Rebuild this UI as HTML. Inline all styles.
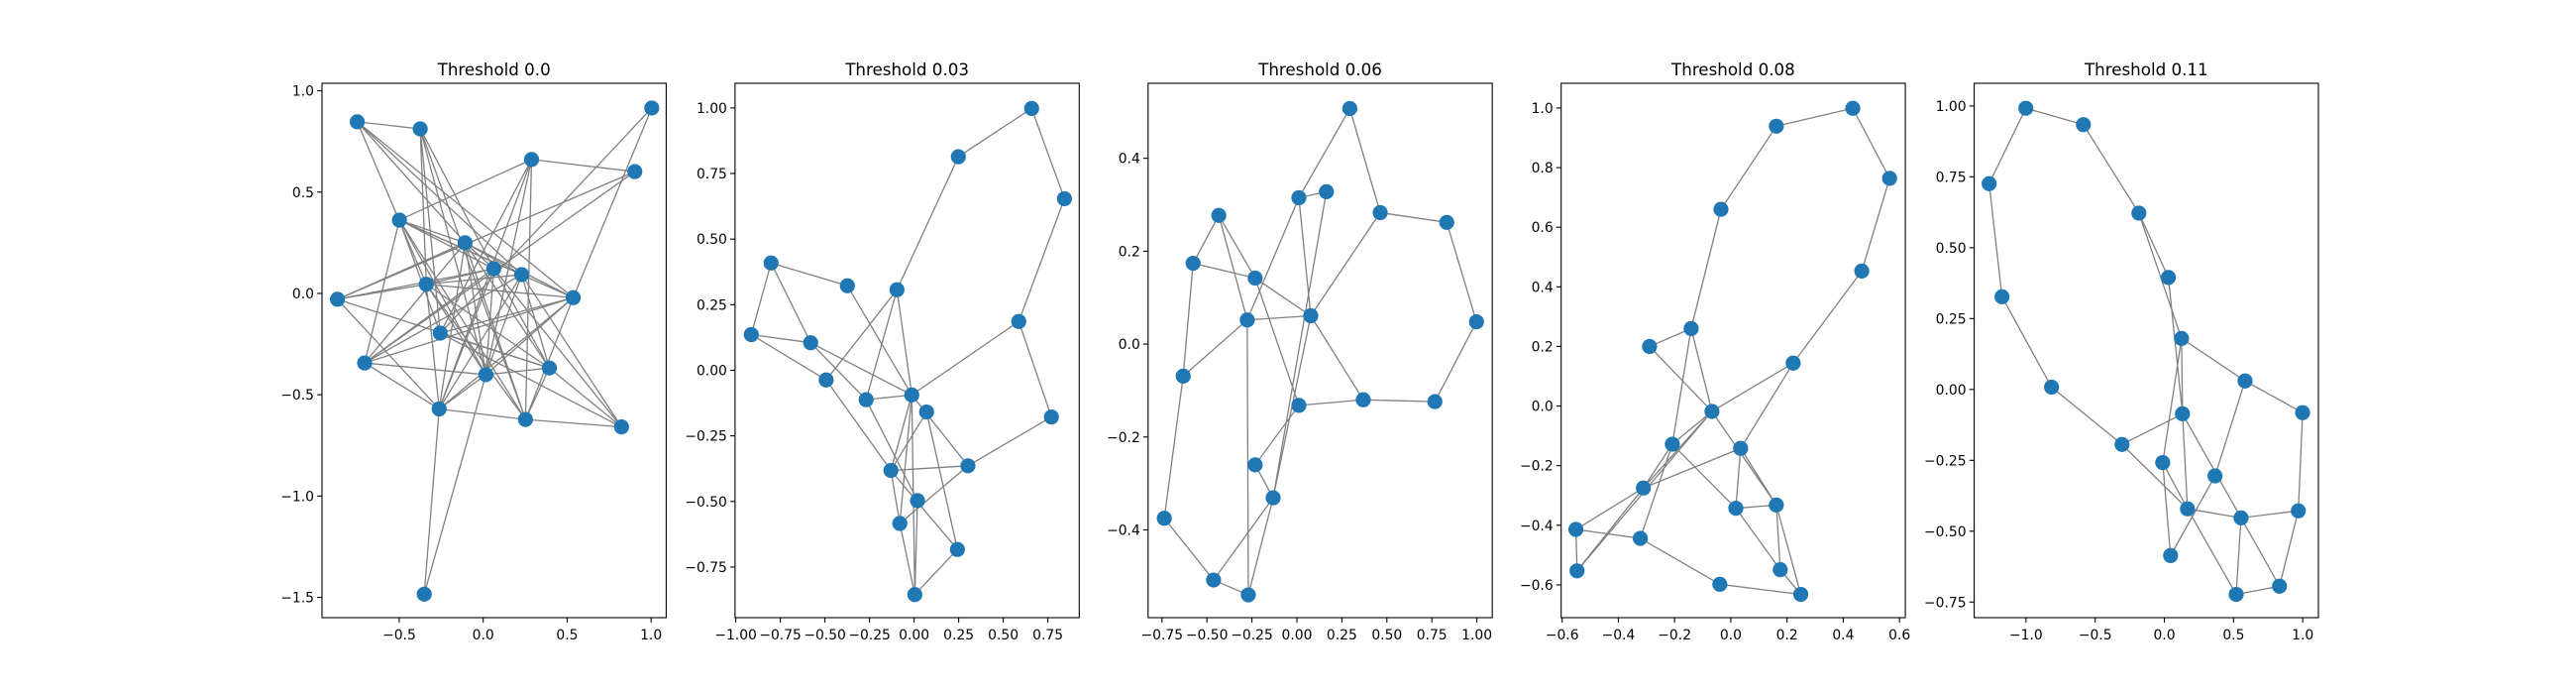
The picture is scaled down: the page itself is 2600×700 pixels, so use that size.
<!DOCTYPE html>
<html><head><meta charset="utf-8">
<style>
html,body{margin:0;padding:0;background:#fff;}
svg{display:block;font-family:"DejaVu Sans","Liberation Sans",sans-serif;}
</style></head>
<body>
<svg id="fig" width="2600" height="700" viewBox="0 0 2600 700" xmlns="http://www.w3.org/2000/svg"></svg>
<script>
// Panel titles
const titles = ["Threshold 0.0","Threshold 0.03","Threshold 0.06","Threshold 0.08","Threshold 0.11"];
// Node coordinates per panel
const p1X = [-0.75,-0.375,0.288,1.004,0.903,-0.499,-0.108,0.063,0.229,-0.339,-0.868,0.536,-0.256,-0.706,0.016,0.394,-0.262,0.252,0.824,-0.351];
const p1Y = [0.847,0.812,0.661,0.915,0.601,0.362,0.25,0.122,0.093,0.045,-0.029,-0.021,-0.196,-0.343,-0.401,-0.368,-0.57,-0.622,-0.659,-1.484];
const p2X = [0.659,0.248,0.843,-0.802,-0.374,-0.096,0.587,-0.913,-0.580,-0.493,-0.269,-0.013,0.070,0.770,-0.130,0.302,0.019,-0.080,0.243,0.004];
const p2Y = [0.998,0.814,0.654,0.409,0.322,0.307,0.186,0.136,0.105,-0.037,-0.112,-0.094,-0.159,-0.178,-0.382,-0.364,-0.497,-0.584,-0.683,-0.855];
const p3X = [0.294,0.011,0.164,0.463,0.833,-0.434,-0.577,-0.232,-0.276,0.077,0.998,-0.632,0.011,0.369,0.767,-0.232,-0.132,-0.737,-0.463,-0.270];
const p3Y = [0.507,0.315,0.328,0.283,0.262,0.277,0.174,0.142,0.052,0.061,0.048,-0.069,-0.132,-0.120,-0.124,-0.260,-0.331,-0.375,-0.508,-0.540];
const p4X = [0.434,0.162,0.565,-0.035,0.466,-0.141,-0.289,0.222,-0.067,-0.208,0.035,-0.311,0.018,0.162,-0.551,-0.322,-0.547,0.176,-0.039,0.249];
const p4Y = [0.999,0.939,0.764,0.660,0.453,0.260,0.200,0.144,-0.018,-0.128,-0.142,-0.275,-0.343,-0.332,-0.414,-0.444,-0.553,-0.549,-0.598,-0.632];
const p5X = [-1.001,-0.585,-1.266,-0.184,0.029,-1.173,0.124,-0.815,0.583,0.131,0.999,-0.306,-0.012,0.366,0.167,0.554,0.968,0.045,0.519,0.832];
const p5Y = [0.992,0.934,0.726,0.622,0.395,0.327,0.180,0.008,0.030,-0.086,-0.082,-0.194,-0.258,-0.305,-0.421,-0.453,-0.428,-0.586,-0.723,-0.694];
// Edges per panel (node index pairs)
const p1E = [[0,1],[0,9],[0,6],[0,8],[0,11],[1,9],[1,12],[1,7],[1,17],[1,14],[2,5],[2,4],[2,14],[2,16],[2,17],[2,12],[3,12],[3,11],[4,10],[4,13],
 [5,6],[5,7],[5,8],[5,11],[5,13],[5,12],[5,14],[5,17],[6,10],[6,7],[6,8],[6,11],[6,13],[6,16],[6,14],[6,15],[6,17],
 [7,9],[7,10],[7,16],[7,14],[7,18],[7,15],[7,13],[8,9],[8,13],[8,16],[8,14],[8,15],[8,18],[9,10],[9,11],[9,14],[9,15],[9,17],[9,16],
 [10,16],[10,15],[11,12],[11,13],[11,14],[11,17],[11,16],[12,15],[12,18],[13,14],[13,16],[14,15],[14,16],[14,19],[15,17],[15,18],[16,17],[16,19],[17,18]];
const p2E = [[0,1],[0,2],[1,5],[2,6],[6,11],[13,6],[13,15],[3,4],[3,7],[3,8],[4,11],[11,15],[7,8],[7,9],[8,10],[8,11],[9,5],[9,14],[10,11],[10,5],[10,16],
 [5,11],[11,14],[11,17],[11,19],[12,14],[12,18],[14,15],[14,17],[14,18],[15,17],[17,19],[18,19],[16,19]];
const p3E = [[0,1],[0,3],[1,2],[1,9],[1,8],[2,16],[3,4],[3,9],[4,10],[10,14],[13,14],[12,13],[9,13],[8,9],[7,9],[6,7],[5,6],[5,7],[5,8],[7,12],
 [6,11],[11,8],[11,17],[17,18],[18,19],[18,16],[8,19],[15,12],[15,16],[16,19],[9,16]];
const p4E = [[0,1],[0,2],[1,3],[2,4],[3,5],[4,7],[5,6],[5,9],[5,8],[6,8],[8,7],[7,10],[8,9],[8,11],[8,16],[8,13],[10,13],[9,11],[9,12],[9,15],
 [10,11],[10,12],[11,14],[12,13],[12,17],[13,17],[13,19],[14,15],[14,16],[15,18],[18,19],[17,19],[11,16]];
const p5E = [[0,1],[0,2],[1,3],[2,5],[5,7],[7,11],[3,4],[3,6],[4,9],[6,8],[6,9],[6,12],[8,10],[8,13],[10,16],[11,9],[11,14],[9,14],[9,15],[12,14],
 [12,17],[13,17],[14,15],[14,18],[15,18],[15,19],[16,15],[16,19],[18,19]];
// Tick values per panel
const p1XT=[-0.5,0,0.5,1.0], p1YT=[-1.5,-1.0,-0.5,0,0.5,1.0];
const p2XT=[-1,-0.75,-0.5,-0.25,0,0.25,0.5,0.75], p2YT=[-0.75,-0.5,-0.25,0,0.25,0.5,0.75,1.0];
const p3XT=[-0.75,-0.5,-0.25,0,0.25,0.5,0.75,1.0], p3YT=[-0.4,-0.2,0,0.2,0.4];
const p4XT=[-0.6,-0.4,-0.2,0,0.2,0.4,0.6], p4YT=[-0.6,-0.4,-0.2,0,0.2,0.4,0.6,0.8,1.0];
const p5XT=[-1,-0.5,0,0.5,1.0], p5YT=[-0.75,-0.5,-0.25,0,0.25,0.5,0.75,1.0];

const panels = [
 {X:p1X,Y:p1Y,E:p1E,XT:p1XT,YT:p1YT,xd:1,yd:1,xlim:[-0.96,1.09],ylim:[-1.60,1.037]},
 {X:p2X,Y:p2Y,E:p2E,XT:p2XT,YT:p2YT,xd:2,yd:2,xlim:[-1.004,0.926],ylim:[-0.943,1.094]},
 {X:p3X,Y:p3Y,E:p3E,XT:p3XT,YT:p3YT,xd:2,yd:1,xlim:[-0.827,1.086],ylim:[-0.589,0.5615]},
 {X:p4X,Y:p4Y,E:p4E,XT:p4XT,YT:p4YT,xd:1,yd:1,xlim:[-0.6035,0.621],ylim:[-0.710,1.083]},
 {X:p5X,Y:p5Y,E:p5E,XT:p5XT,YT:p5YT,xd:1,yd:2,xlim:[-1.374,1.113],ylim:[-0.805,1.080]}
];
const NS="http://www.w3.org/2000/svg";
const svg=document.getElementById('fig');
function mk(tag,attrs,parent){const e=document.createElementNS(NS,tag);for(const k in attrs)e.setAttribute(k,attrs[k]);parent.appendChild(e);return e;}
function fmt(v,d){return v.toFixed(d).replace('-','\u2212');}
const W=347.4,H=539,TOP=84;
panels.forEach((p,i)=>{
  const L=325+i*(W+69.5);
  const g=mk('g',{},svg);
  
  
  const sx=v=>L+(v-p.xlim[0])/(p.xlim[1]-p.xlim[0])*W;
  const sy=v=>TOP+H-(v-p.ylim[0])/(p.ylim[1]-p.ylim[0])*H;
  const t=mk('text',{x:L+W/2,y:TOP-8,'text-anchor':'middle','font-size':'16.7',fill:'#000'},g);
  t.textContent=titles[i];
  
  
  const eg=mk('g',{stroke:'#808080','stroke-width':'1.3'},g);
  
  
  p.E.forEach(([a,b])=>{
    const l=mk('line',{x1:sx(p.X[a]),y1:sy(p.Y[a]),x2:sx(p.X[b]),y2:sy(p.Y[b])},eg);
    
    
  });
  const ng=mk('g',{fill:'#1f77b4'},g);
  
  
  p.X.forEach((x,k)=>{
    const c=mk('circle',{cx:sx(x),cy:sy(p.Y[k]),r:7.6},ng);
    
    
  });
  const fr=mk('rect',{x:L,y:TOP,width:W,height:H,fill:'none',stroke:'#000','stroke-width':'1.1'},g);
  
  
  p.XT.forEach(v=>{
    const x=sx(v);
    mk('line',{x1:x,y1:TOP+H,x2:x,y2:TOP+H+4.9,stroke:'#000','stroke-width':'1.1'},g);
    const tx=mk('text',{x:x,y:TOP+H+22,'text-anchor':'middle','font-size':'13.9',fill:'#000'},g);
    tx.textContent=fmt(v,p.xd);
    
    
  });
  p.YT.forEach(v=>{
    const y=sy(v);
    mk('line',{x1:L-4.9,y1:y,x2:L,y2:y,stroke:'#000','stroke-width':'1.1'},g);
    const ty=mk('text',{x:L-8,y:y+5,'text-anchor':'end','font-size':'13.9',fill:'#000'},g);
    ty.textContent=fmt(v,p.yd);
    
    
  });
});
</script>
</body></html>
